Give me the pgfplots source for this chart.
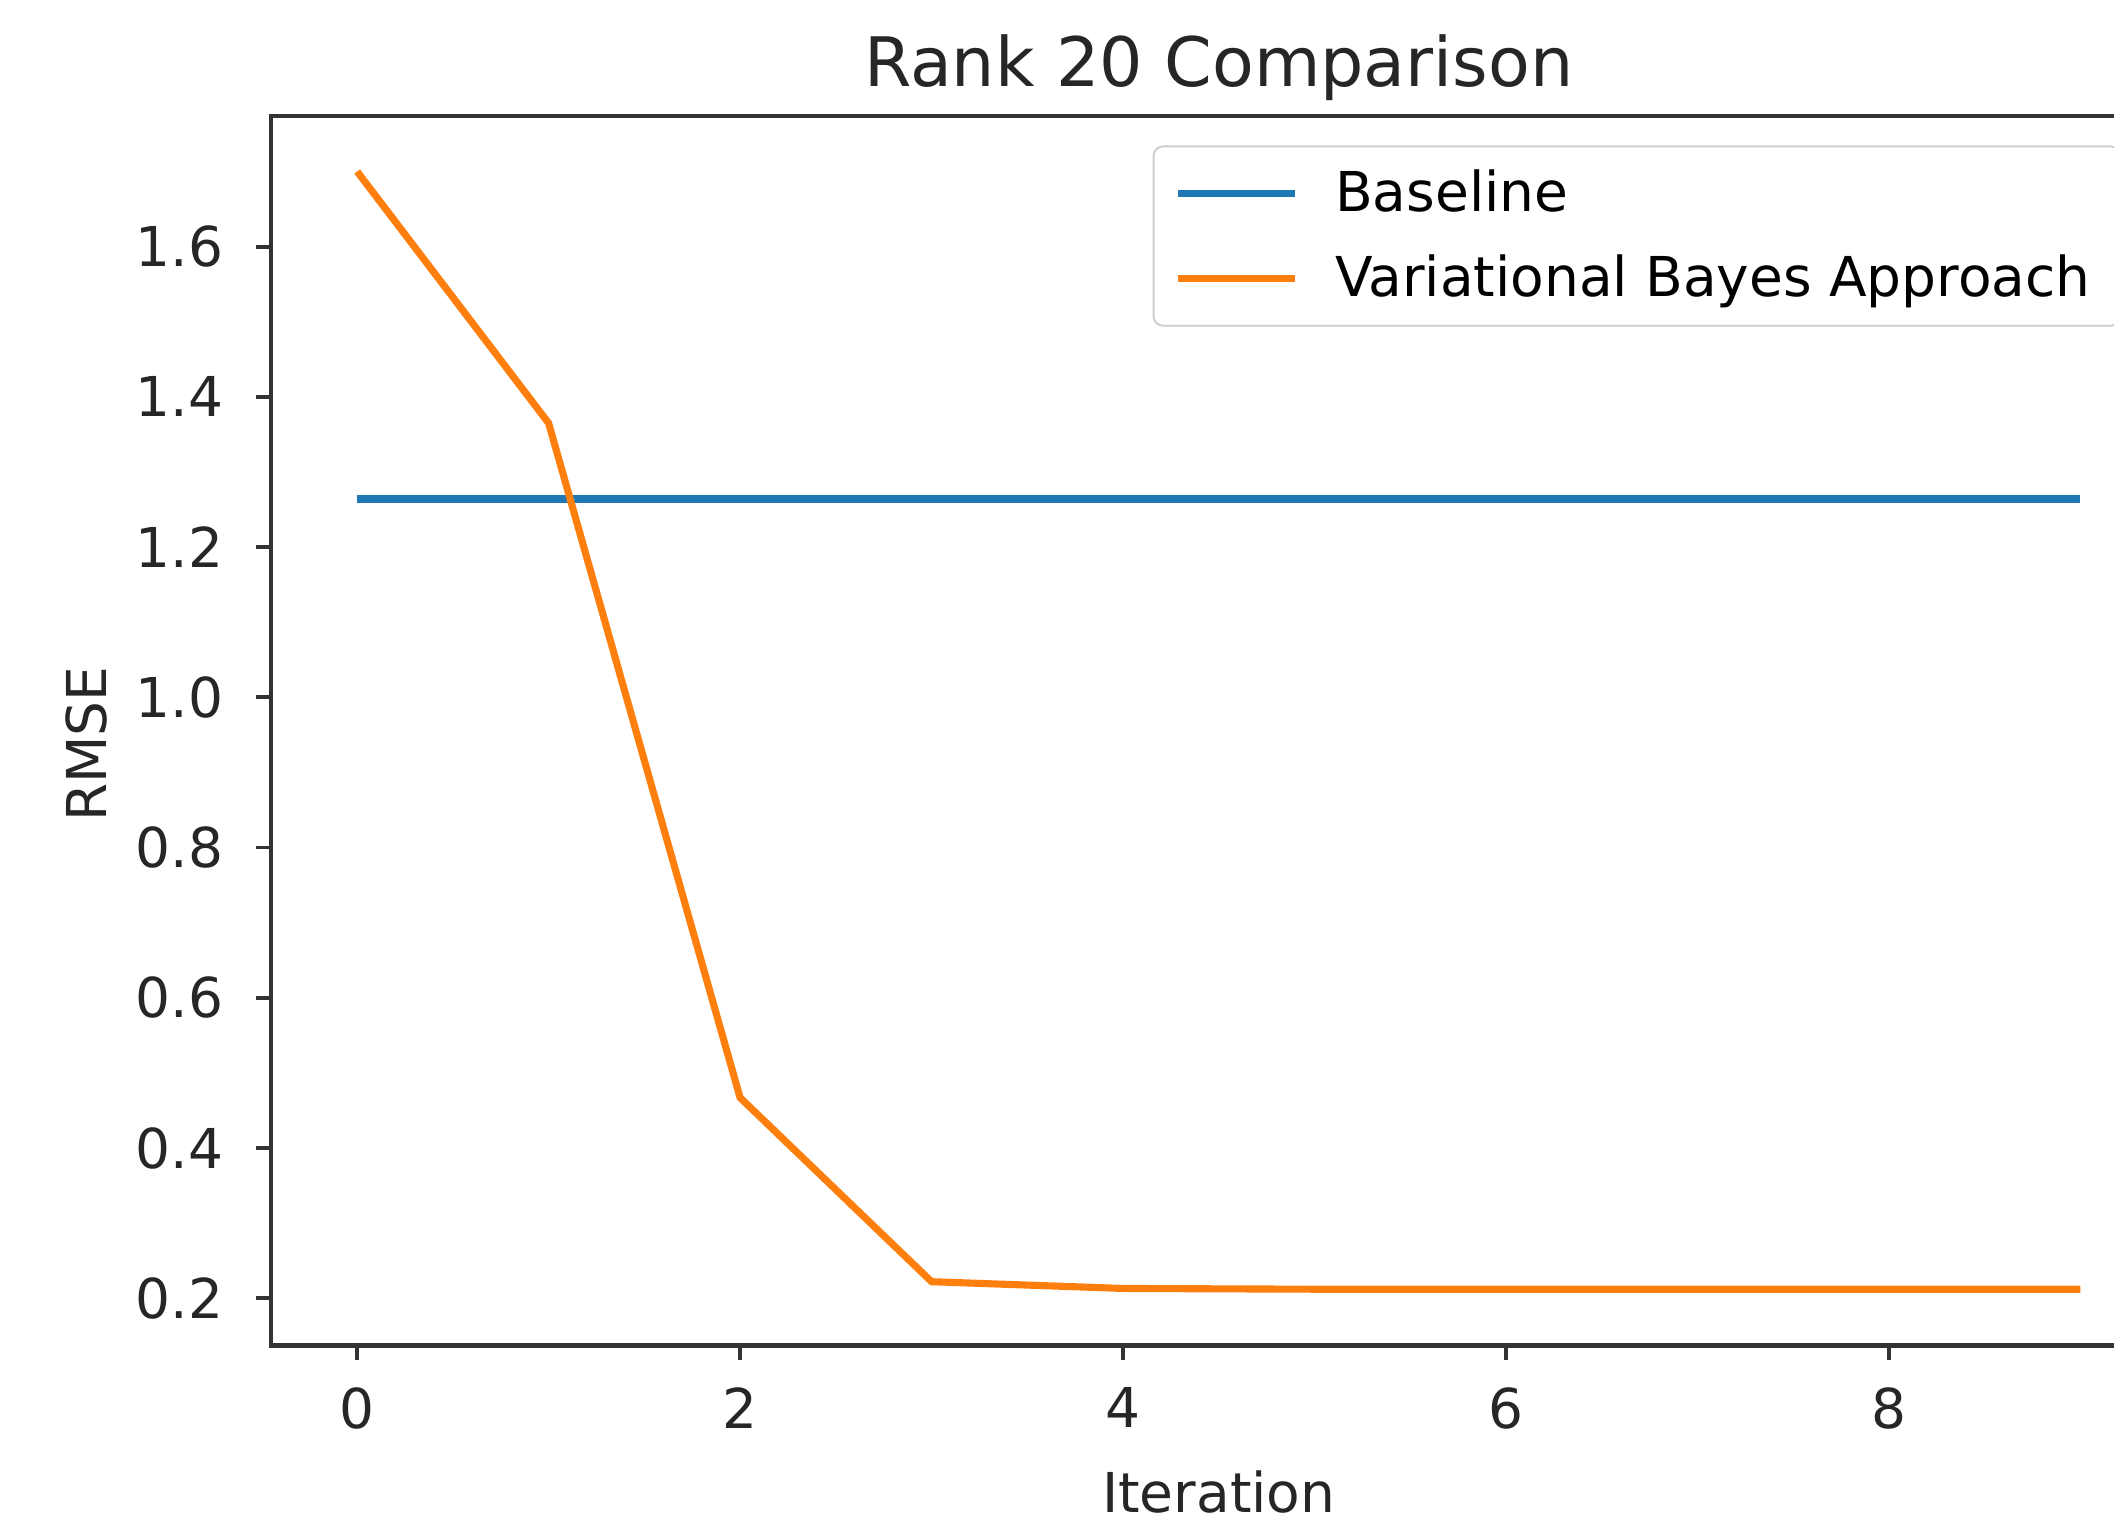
\documentclass[border=0pt]{standalone}
\usepackage{fontspec}
\setmainfont{DejaVu Sans}
\usepackage{pgfplots}
\pgfplotsset{compat=1.18}

\definecolor{mplblue}{HTML}{1F77B4}
\definecolor{mplorange}{HTML}{FF7F0E}

\begin{document}
\begin{tikzpicture}
\begin{axis}[
    scale only axis,
    width=14.06cm, height=9.12cm,
    xmin=-0.45, xmax=9.45,
    ymin=0.137, ymax=1.774,
    xtick={0,2,4,6,8},
    ytick={0.2,0.4,0.6,0.8,1.0,1.2,1.4,1.6},
    tick pos=left,
    tick align=outside,
    major tick length=0.11cm,
    every tick/.style={black!80, line width=0.8pt},
    axis line style={black!80, line width=0.9pt},
    /pgf/number format/assume math mode=true,
    ticklabel style={font=\fontsize{11.6}{14}\selectfont, text=black!85},
    xticklabel style={yshift=-0.08cm},
    yticklabel style={xshift=-0.12cm, /pgf/number format/.cd, fixed, fixed zerofill, precision=1},
    title={Rank 20 Comparison},
    title style={font=\fontsize{14.4}{17}\selectfont, text=black!85,
        at={(axis description cs:0.5,1.001)}, anchor=base},
    xlabel={Iteration},
    xlabel style={font=\fontsize{11.6}{14}\selectfont, text=black!85,
        at={(axis description cs:0.5,-0.136)}, anchor=base},
    ylabel={RMSE},
    ylabel style={font=\fontsize{11.6}{14}\selectfont, text=black!85,
        at={(axis description cs:-0.087,0.489)}, anchor=base, rotate=0},
    legend cell align=left,
    legend style={
        at={(axis description cs:0.976,0.976)}, anchor=north east,
        draw=black!20, rounded corners=2pt, fill=white, fill opacity=0.8,
        text opacity=1, inner xsep=0.15cm, inner ysep=0.035cm,
        font=\fontsize{11.6}{14}\selectfont,
        nodes={text height=0.4cm, text depth=0.13cm, inner ysep=0.05cm},
        /tikz/every odd column/.append style={column sep=0.2cm},
    },
    legend image code/.code={\draw[#1] (0cm,0cm) -- (0.87cm,0cm);},
]
\addplot[mplblue, line width=1.6pt] coordinates {
    (0,1.264) (1,1.264) (2,1.264) (3,1.264) (4,1.264)
    (5,1.264) (6,1.264) (7,1.264) (8,1.264) (9,1.264)
};
\addlegendentry{Baseline}
\addplot[mplorange, line width=1.5pt] coordinates {
    (0,1.700) (1,1.365) (2,0.467) (3,0.222) (4,0.213)
    (5,0.212) (6,0.212) (7,0.212) (8,0.212) (9,0.212)
};
\addlegendentry{Variational Bayes Approach}
\coordinate (bl) at (rel axis cs:-0.14296,-0.14474);
\coordinate (tr) at (rel axis cs:0.97226,1.0943);
\end{axis}
\pgfresetboundingbox
\path[use as bounding box] (bl) rectangle (tr);
\end{tikzpicture}
\end{document}
